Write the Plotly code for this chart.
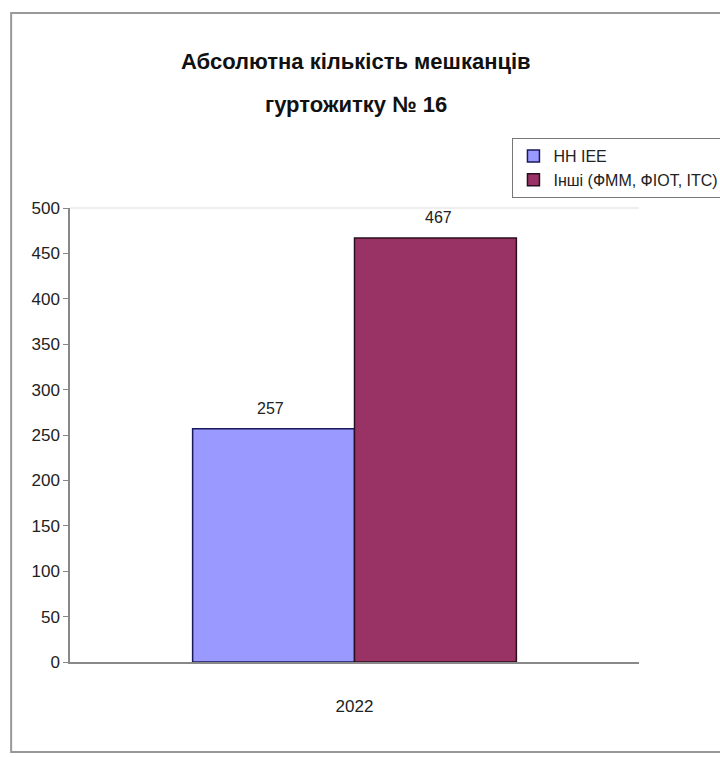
import plotly.graph_objects as go

categories = ["2022"]
series_names = ["НН ІЕЕ", "Інші (ФММ, ФІОТ, ІТС)"]
series_values = [[257], [467]]
colors = ["#9999FF", "#993366"]
outlines = ["#1a1a5a", "#2a0f1e"]
y_ticks = [0, 50, 100, 150, 200, 250, 300, 350, 400, 450, 500]
title_lines = ["Абсолютна кількість мешканців", "гуртожитку № 16"]

FONT = "Liberation Sans Narrow, Arial Narrow, Liberation Sans, Arial, sans-serif"

# the page is captured slightly wider than 720 and squeezed; work in that space
SX = 736 / 720
W, H = 736, 757
L, T, PW, PH = 68 * SX, 208, 580 * SX, 454

def px_x(x):  # target px -> paper x
    return (x * SX - L) / PW

def px_y(y):  # target px -> paper y
    return (T + PH - y) / PH

fig = go.Figure()
n = len(series_names)
for i, (name, vals, c, o) in enumerate(zip(series_names, series_values, colors, outlines)):
    fig.add_trace(go.Bar(
        x=categories, y=vals, name=name,
        marker=dict(color=c, line=dict(color=o, width=1.5)),
    ))

annotations = []
for i, vals in enumerate(series_values):
    for j, v in enumerate(vals):
        annotations.append(dict(
            x=j, y=v, xref="x", yref="y", text=str(v), showarrow=False,
            xshift=(i - (n - 1) / 2) * 165 * SX, yshift=20,
            font=dict(family=FONT, size=16, color="#222")))
for k, line in enumerate(title_lines):
    annotations.append(dict(
        x=px_x(360), y=px_y(62 + 43 * k), xref="paper", yref="paper",
        xanchor="center", yanchor="middle", showarrow=False,
        text="<b>" + line + "</b>",
        font=dict(family=FONT, size=22, color="#111")))

fig.update_layout(
    width=W, height=H,
    margin=dict(l=L, r=W - L - PW, t=T, b=H - T - PH),
    paper_bgcolor="white", plot_bgcolor="white",
    barmode="group", bargap=0.431, bargroupgap=0,
    legend=dict(x=px_x(519), xanchor="left", y=px_y(138), yanchor="top",
                bordercolor="#777", borderwidth=1, bgcolor="white",
                font=dict(family=FONT, size=16, color="#222"),
                tracegroupgap=2, itemwidth=30),
    showlegend=True,
    xaxis=dict(type="category", showline=True, linecolor="#888", linewidth=2, ticks="",
               ticklabelstandoff=28,
               tickfont=dict(family=FONT, size=17, color="#222"), showgrid=False),
    yaxis=dict(range=[0, 500], tickvals=y_ticks, showline=True, linecolor="#888",
               linewidth=1.5, ticks="outside", ticklen=5, tickcolor="#888",
               tickfont=dict(family=FONT, size=17, color="#222"), showgrid=False,
               zeroline=False),
    annotations=annotations,
    shapes=[
        dict(type="rect", xref="paper", yref="paper",
             x0=px_x(8), x1=px_x(760), y0=px_y(752), y1=px_y(13),
             line=dict(color="#999", width=2), layer="below"),
        dict(type="line", xref="paper", yref="paper", x0=0, x1=1, y0=1, y1=1,
             line=dict(color="#ddd", width=1)),
    ],
)

fig.write_html(
    "out.html",
    config={"displayModeBar": False},
    post_script="document.body.style.margin='0';document.body.style.overflow='hidden';"
                "document.documentElement.style.overflow='hidden';",
)
